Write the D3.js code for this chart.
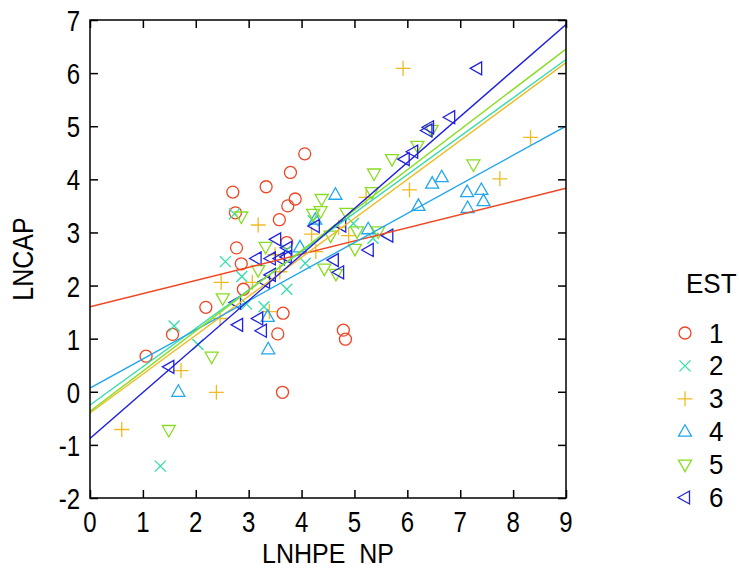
<!DOCTYPE html>
<html><head><meta charset="utf-8">
<script src="https://cdn.jsdelivr.net/npm/d3@7"></script>
<style>body{margin:0;background:#fff}svg{display:block}text{font-family:"Liberation Sans",Arial,sans-serif;fill:#000}</style>
</head><body><svg id="c" width="739" height="569"></svg>
<script>
const groups = ["1","2","3","4","5","6"];
const colors = ["#f04422","#33ddaa","#eebb22","#22a6ee","#88dd22","#2222dd"];
const shapes = ["circle","cross","plus","up","down","left"];
const xTicks = [0,1,2,3,4,5,6,7,8,9];
const yTicks = [-2,-1,0,1,2,3,4,5,6,7];
// regression lines: intercept and slope per group
const lineIntercepts = [1.60,-0.25,-0.40,0.07,-0.37,-0.88];
const lineSlopes = [0.248,0.723,0.733,0.548,0.758,0.866];
const est1 = [[1.06,0.67],[1.56,1.08],[2.19,1.59],[2.86,2.41],[2.90,1.93],[3.65,1.48],[3.55,1.09],[3.64,-0.01],[2.77,2.71],[4.06,4.48],[3.79,4.13],[3.33,3.86],[2.70,3.76],[3.88,3.63],[3.74,3.50],[2.75,3.37],[3.58,3.24],[3.72,2.81],[4.79,1.16],[4.83,0.99]];
const est2 = [[1.33,-1.40],[1.59,1.24],[2.04,0.89],[2.56,2.45],[2.87,2.17],[2.96,1.65],[3.29,1.60],[3.72,1.93],[4.07,2.42],[2.73,3.35],[4.22,3.22],[3.72,2.67],[4.98,3.17],[5.35,2.89]];
const est3 = [[0.60,-0.71],[1.72,0.40],[2.39,-0.01],[2.48,2.06],[3.07,2.06],[3.39,1.51],[2.46,1.38],[3.59,2.26],[4.27,2.64],[3.18,3.14],[4.19,2.97],[3.50,2.58],[6.04,3.80],[5.22,3.66],[4.70,3.10],[4.89,2.94],[5.92,6.09],[8.33,4.79],[7.75,4.01]];
const est4 = [[1.67,0.00],[3.37,0.80],[3.36,1.41],[3.97,2.72],[4.26,3.24],[4.64,3.71],[5.26,3.06],[6.21,3.50],[6.47,3.92],[6.65,4.04],[7.13,3.76],[7.40,3.80],[7.44,3.59],[7.14,3.46]];
const est5 = [[1.49,-0.72],[2.30,0.66],[2.51,1.76],[3.18,2.29],[4.43,2.32],[2.86,3.30],[3.32,2.73],[4.38,3.63],[4.22,3.35],[4.36,3.40],[6.19,4.63],[5.71,4.38],[5.37,4.11],[5.33,3.76],[4.85,3.37],[4.55,2.94],[5.05,3.02],[5.45,3.02],[5.01,2.69],[7.25,4.28],[6.46,4.93],[4.65,2.22]];
const est6 = [[1.50,0.47],[2.80,1.26],[3.18,1.38],[3.25,1.15],[2.76,1.68],[3.15,2.51],[3.42,2.51],[3.31,2.07],[3.42,2.20],[3.59,2.51],[3.72,2.54],[3.52,2.87],[3.73,2.71],[4.25,3.12],[5.95,4.38],[6.11,4.52],[4.75,3.13],[5.64,2.94],[5.27,2.67],[7.32,6.09],[6.81,5.17],[6.41,4.98],[6.38,4.92],[4.61,2.48],[4.71,2.25]];
const series = [est1,est2,est3,est4,est5,est6];

const svg = d3.select("#c");
const L=90,R=566,T=20,B=498;
const x = d3.scaleLinear().domain([0,9]).range([L,R]);
const y = d3.scaleLinear().domain([-2,7]).range([B,T]);

function symPath(s){
  switch(s){
    case "circle": return "M6,0A6,6 0 1,1 -6,0A6,6 0 1,1 6,0Z";
    case "cross": return "M-5.5,-5.5L5.5,5.5M-5.5,5.5L5.5,-5.5";
    case "plus": return "M-7.5,0L7.5,0M0,-7.5L0,7.5";
    case "up": return "M0,-7L6.5,4.5L-6.5,4.5Z";
    case "down": return "M0,7L6.5,-4.5L-6.5,-4.5Z";
    case "left": return "M-7,0L4.5,-6.5L4.5,6.5Z";
  }
}
function label(parent, px, py, str, size, sx, sy, anchor, rot){
  return parent.append("text")
    .attr("transform",`translate(${px},${py})${rot?` rotate(${rot})`:""} scale(${sx},${sy})`)
    .attr("text-anchor",anchor).style("font-size",size+"px").style("white-space","pre").text(str);
}

const g = svg.append("g");
series.forEach((pts,i)=>{
  g.selectAll(null).data(pts).enter().append("path")
    .attr("d",symPath(shapes[i]))
    .attr("transform",d=>`translate(${x(d[0])},${y(d[1])})`)
    .attr("fill","none").attr("stroke",colors[i]).attr("stroke-width",1.3);
});
// regression lines
svg.append("clipPath").attr("id","cp").append("rect").attr("x",L).attr("y",T).attr("width",R-L).attr("height",B-T);
const lg = svg.append("g").attr("clip-path","url(#cp)");
groups.forEach((gname,i)=>{
  const line = d3.line().x(d=>x(d)).y(d=>y(lineIntercepts[i]+lineSlopes[i]*d));
  lg.append("path").datum([0,9]).attr("d",line).attr("fill","none")
    .attr("stroke",colors[i]).attr("stroke-width",1.4);
});

// axes: ticks inward on all sides
const axB = d3.axisBottom(x).tickValues(xTicks).tickSizeInner(-8).tickSizeOuter(0).tickFormat("");
const axT = d3.axisTop(x).tickValues(xTicks).tickSizeInner(-8).tickSizeOuter(0).tickFormat("");
const axL = d3.axisLeft(y).tickValues(yTicks).tickSizeInner(-8).tickSizeOuter(0).tickFormat("");
const axR = d3.axisRight(y).tickValues(yTicks).tickSizeInner(-8).tickSizeOuter(0).tickFormat("");
function style(sel){ sel.selectAll("path").remove(); sel.selectAll("text").remove(); sel.selectAll("line").attr("stroke","#000").attr("stroke-width",1.5); }
svg.append("g").attr("transform",`translate(0,${B})`).call(axB).call(style);
svg.append("g").attr("transform",`translate(0,${T})`).call(axT).call(style);
svg.append("g").attr("transform",`translate(${L},0)`).call(axL).call(style);
svg.append("g").attr("transform",`translate(${R},0)`).call(axR).call(style);
svg.append("rect").attr("x",L).attr("y",T).attr("width",R-L).attr("height",B-T).attr("fill","none").attr("stroke","#000").attr("stroke-width",1.5);

const tl = svg.append("g");
xTicks.forEach(v=>label(tl, x(v), 532, String(v), 24, 1, 1.25, "middle"));
yTicks.forEach(v=>label(tl, 80, y(v)+11, String(v), 24, 1, 1.25, "end"));

label(svg, (L+R)/2, 563, "LNHPE  NP", 25, 1, 1.1, "middle");
label(svg, 33, (T+B)/2, "LNCAP", 25, 1, 1.15, "middle", -90);

// legend
const leg = svg.append("g");
label(leg, 686, 293, "EST", 26, 1, 1.05, "start");
groups.forEach((gname,i)=>{
  const yy = 333 + i*32.9;
  leg.append("path").attr("d",symPath(shapes[i])).attr("transform",`translate(685,${yy})`)
    .attr("fill","none").attr("stroke",colors[i]).attr("stroke-width",1.3);
  label(leg, 709, yy+9.5, gname, 26, 1, 1.05, "start");
});
</script></body></html>
